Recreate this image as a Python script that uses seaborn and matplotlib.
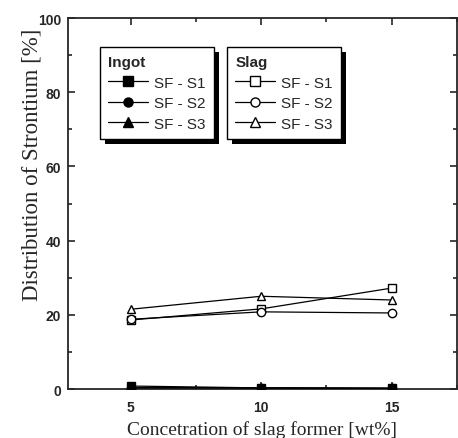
import pandas as pd
import matplotlib
matplotlib.use("Agg")
import matplotlib.pyplot as plt
import seaborn as sns
from matplotlib.lines import Line2D
from matplotlib.patches import Rectangle
from matplotlib.transforms import IdentityTransform
from matplotlib.ticker import MultipleLocator

# Data
conc = [5, 10, 15]
series = ["SF - S1", "SF - S2", "SF - S3"]
ingot_s1 = [0.8, 0.3, 0.2]
ingot_s2 = [0.4, 0.3, 0.2]
ingot_s3 = [0.3, 0.3, 0.2]
slag_s1 = [18.6, 21.6, 27.2]
slag_s2 = [18.8, 20.8, 20.5]
slag_s3 = [21.5, 25.0, 24.0]
markers = ["s", "o", "^"]

rows = []
for phase, vals in [("Ingot", [ingot_s1, ingot_s2, ingot_s3]), ("Slag", [slag_s1, slag_s2, slag_s3])]:
    for name, v in zip(series, vals):
        for x, y in zip(conc, v):
            rows.append({"phase": phase, "series": name, "conc": x, "value": y})
df = pd.DataFrame(rows)

sns.set_style("ticks")
fig = plt.figure(figsize=(4.58, 4.39), dpi=100)
ax = fig.add_axes([0.1485, 0.1116, 0.849, 0.845])

for phase in ["Slag", "Ingot"]:
    for name, m in zip(series, markers):
        sub = df[(df.phase == phase) & (df.series == name)]
        face = "black" if phase == "Ingot" else "white"
        sns.lineplot(data=sub, x="conc", y="value", ax=ax, color="black", lw=0.9,
                     marker=m, markersize=6, markerfacecolor=face,
                     markeredgecolor="black", markeredgewidth=1, legend=False,
                     zorder=3)

ax.set_xlim(2.6, 17.5)
ax.set_ylim(0, 100)
ax.xaxis.set_major_locator(MultipleLocator(5))
ax.xaxis.set_minor_locator(MultipleLocator(2.5))
ax.yaxis.set_major_locator(MultipleLocator(20))
ax.yaxis.set_minor_locator(MultipleLocator(10))
ax.tick_params(which="both", direction="in", top=True, right=True, width=1.2)
ax.tick_params(which="major", length=5)
ax.tick_params(which="minor", length=3)
ax.tick_params(axis="x", pad=8)
ax.tick_params(axis="y", pad=5)
for lab in ax.get_xticklabels() + ax.get_yticklabels():
    lab.set_fontfamily("Liberation Sans")
    lab.set_fontweight("heavy")
    lab.set_fontsize(10)
for sp in ax.spines.values():
    sp.set_linewidth(1.3)

ax.set_xlabel("Concetration of slag former [wt%]", fontfamily="Liberation Serif",
              fontsize=14, labelpad=4)
ax.set_ylabel("Distribution of Strontium [%]", fontfamily="Liberation Serif",
              fontsize=16.5)
ax.yaxis.set_label_coords(-0.066, 0.606)

def make_legend(face, title, x0):
    handles = [Line2D([], [], color="black", lw=0.9, marker=m, markersize=6.5,
                      markerfacecolor=face, markeredgecolor="black")
               for m in markers]
    leg = ax.legend(handles, series, title=title, loc="upper left",
                    bbox_to_anchor=(x0, 0.922), frameon=True, fancybox=False,
                    edgecolor="black", framealpha=1, alignment="left",
                    prop={"family": "Liberation Sans", "size": 11},
                    handlelength=2.6, handletextpad=0.4, labelspacing=0.42,
                    borderpad=0.55, borderaxespad=0)
    leg.get_title().set_fontweight("bold")
    leg.get_title().set_fontfamily("Liberation Sans")
    leg.get_title().set_fontsize(11)
    leg.get_frame().set_linewidth(1.0)
    return leg

leg1 = make_legend("black", "Ingot", 0.082)
ax.add_artist(leg1)
leg2 = make_legend("white", "Slag", 0.409)

# heavy black drop shadow behind each legend box
fig.canvas.draw()
for leg in [leg1, leg2]:
    bb = leg.get_frame().get_window_extent()
    ax.add_patch(Rectangle((bb.x0 + 5, bb.y0 - 5), bb.width, bb.height,
                           transform=IdentityTransform(), facecolor="black",
                           edgecolor="none", zorder=4.9, clip_on=False))

fig.savefig("out.png", dpi=100)
